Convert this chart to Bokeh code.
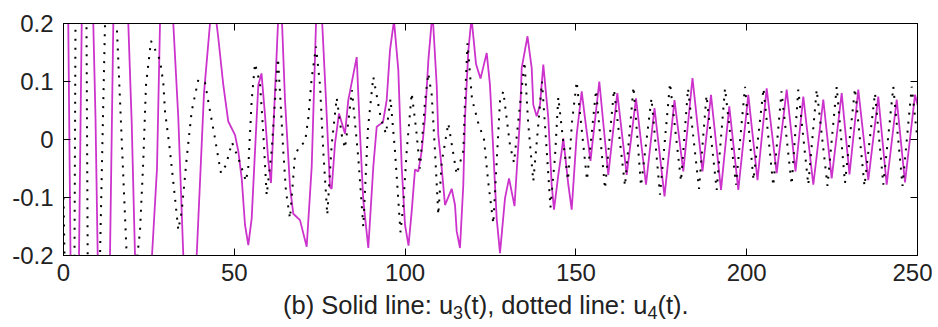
from bokeh.plotting import figure
from bokeh.models import Range1d, LinearAxis, FixedTicker, Div
from bokeh.layouts import column
from bokeh.embed import file_html
from bokeh.resources import INLINE

# ---- data ----
t_u3 = [0.0, 1.4, 2.05, 3.3, 4.54, 5.33, 7.0, 8.72, 9.37, 10.01, 11.8, 13.61, 14.58, 16.8,
        18.97, 19.96, 20.93, 23.4, 25.91, 27.37, 28.25, 30.2, 32.14, 33.61, 35.07, 37.0,
        38.99, 41.13, 42.89, 44.2, 45.32, 46.78, 48.24, 50.2, 51.17, 52.17, 53.13, 54.1,
        55.09, 56.06, 57.03, 57.96, 58.99, 59.95, 60.74, 62.79, 63.82, 64.84, 66.31, 67.27,
        69.23, 71.19, 72.66, 73.92, 75.53, 76.84, 78.02, 78.51, 79.48, 80.65, 82.41, 83.37,
        85.83, 86.8, 87.76, 89.23, 90.69, 91.69, 93.53, 94.61, 95.58, 96.75, 98.01, 99.0,
        99.97, 101.0, 101.93, 102.9, 103.86, 104.86, 105.83, 106.79, 108.02, 109.25, 109.72,
        110.71, 111.68, 113.64, 114.61, 115.1, 116.07, 117.04, 117.54, 118.5, 119.44, 120.76,
        122.07, 123.89, 124.85, 125.82, 126.81, 127.78, 129.25, 130.42, 132.03, 133.64,
        134.13, 135.83, 137.06, 137.53, 138.52, 139.49, 140.46, 141.92, 142.91, 143.59,
        144.85, 145.84, 146.31, 147.78, 148.77, 150.23, 151.7, 152.66, 154.27, 156.85,
        159.48, 162.12, 164.87, 167.6, 170.52, 173.01, 175.94, 178.86, 181.44, 184.13,
        187.06, 189.55, 192.48, 194.9, 197.54, 200.47, 203.16, 205.85, 208.78, 211.71,
        214.29, 216.57, 219.5, 222.42, 224.88, 227.81, 230.09, 232.67, 235.6, 238.52,
        240.98, 243.91, 246.34, 249.27, 250.0]
u3 = [0.5, 0.2, -0.2, -0.45, -0.2, 0.2, 0.45, 0.2, 0.037, -0.2, -0.42, -0.2, 0.2, 0.4,
      0.2, 0.03, -0.2, -0.36, -0.2, -0.05, 0.2, 0.32, 0.2, 0.037, -0.2, -0.3,
      -0.2, 0.08, 0.2, 0.23, 0.175, 0.094, 0.031, 0.008, -0.02, -0.067, -0.147, -0.182,
      -0.136, -0.02, 0.094, 0.114, 0.042, -0.037, -0.075, 0.2, 0.225, 0.068, -0.082, -0.128,
      -0.139, -0.185, -0.047, 0.2, 0.225, 0.068, -0.082, -0.085, -0.007, 0.045, 0.01, 0.068,
      0.142, 0.01, -0.105, -0.187, -0.047, 0.022, 0.03, 0.068, 0.154, 0.205, 0.12, -0.047,
      -0.147, -0.183, -0.124, -0.052, -0.055, -0.02, 0.037, 0.135, 0.22, 0.094, 0.008,
      -0.049, -0.113, -0.085, -0.113, -0.158, -0.187, -0.078, 0.037, 0.152, 0.21, 0.13,
      0.105, 0.149, 0.094, -0.02, -0.136, -0.196, -0.101, -0.067, -0.115, 0.037,
      0.123, 0.178, 0.123, 0.06, 0.04, 0.06, 0.129, 0.037, -0.078, -0.121,
      -0.061, -0.02, 0.002, -0.078, -0.121, 0.008, 0.083, 0.037, -0.037, 0.1,
      -0.061, 0.08, -0.061, 0.071, -0.078, 0.054, -0.098, 0.068, -0.055, 0.106,
      -0.055, 0.077, -0.087, 0.057, -0.087, 0.077, -0.07, 0.088, -0.058, 0.086,
      -0.055, 0.074, -0.078, 0.069, -0.067, 0.08, -0.06, 0.086, -0.07, 0.074,
      -0.078, 0.069, -0.074, 0.077, 0.06]

t_u4 = [0.0, 0.29, 1.9, 3.22, 3.51, 5.1, 6.73, 7.08, 9.0, 10.69, 11.42, 12.15, 13.9, 15.57,
        17.04, 18.5, 20.35, 22.39, 23.36, 24.15, 25.61, 28.25, 29.22, 29.71, 31.18, 32.64,
        33.61, 34.6, 36.07, 37.53, 39.46, 41.42, 42.89, 44.35, 45.32, 46.11, 47.57, 49.33,
        51.67, 53.42, 54.1, 54.6, 55.09, 56.06, 57.52, 58.49, 59.48, 60.95, 61.92, 62.79,
        63.52, 64.34, 65.13, 66.31, 67.77, 69.23, 70.7, 71.66, 72.66, 73.92, 75.09, 76.05,
        77.22, 78.51, 79.98, 81.44, 82.41, 83.37, 84.45, 86.3, 87.76, 89.14, 90.69, 92.94,
        94.41, 95.73, 97.04, 98.65, 99.47, 100.47, 101.93, 103.19, 104.36, 105.83, 106.79,
        107.79, 108.75, 109.72, 110.71, 112.65, 115.1, 117.04, 117.54, 118.27, 119.58,
        121.34, 123.1, 124.27, 125.82, 127.78, 128.75, 130.71, 131.88, 133.64, 134.95,
        136.07, 137.53, 138.61, 140.07, 141.24, 142.56, 143.88, 144.85, 146.22, 147.69,
        148.86, 150.23, 153.25, 155.89, 158.52, 161.15, 164.37, 166.86, 169.06, 172.13,
        174.62, 177.55, 180.77, 182.82, 186.04, 188.23, 191.22, 193.65, 196.87, 199.5,
        201.99, 204.92, 207.78, 210.19, 213.17, 215.1, 218.03, 220.49, 223.65, 226.35,
        228.78, 231.7, 234.48, 237.56, 239.99, 242.92, 245.61, 248.31, 250.0]
u4 = [-0.1, -0.2, -0.5, -0.2, 0.2, 0.5, 0.2, -0.2, -0.45, -0.2, 0.0, 0.2, 0.4, 0.2,
      0.0, -0.2, -0.27, -0.158, -0.037, 0.094, 0.17, 0.137, 0.097, 0.049, -0.02, -0.101,
      -0.156, -0.124, -0.032, 0.049, 0.103, 0.098, 0.049, 0.002, -0.032, -0.058, -0.044, -0.005,
      -0.04, -0.072, -0.047, 0.01, 0.068, 0.131, 0.097, 0.01, -0.096, -0.018, 0.068, 0.14,
      0.066, -0.02, -0.09, -0.136, -0.027, -0.01, -0.005, 0.037, 0.106, 0.16, 0.094, -0.02,
      -0.13, -0.009, 0.072, 0.008, -0.015, 0.03, 0.085, -0.032, -0.15, 0.02, 0.108, 0.035,
      0.01, 0.07, -0.02, -0.16, -0.113, -0.02, 0.08, 0.02, -0.05, 0.066, 0.114,
      0.077, -0.02, -0.13, -0.04, 0.028, -0.06, -0.02, 0.068, 0.166, 0.07,
      0.03, 0.0, -0.07, -0.145, 0.066, 0.083, -0.01, -0.04, 0.06, 0.134,
      0.025, -0.072, 0.0, 0.1, 0.0, -0.117, -0.03, 0.073, 0.0, -0.07,
      0.03, 0.1, -0.07, 0.085, -0.085, 0.086, -0.08, 0.091, -0.08, 0.071,
      -0.095, 0.097, -0.072, 0.088, -0.085, 0.076, -0.087, 0.088, -0.078, 0.091,
      -0.07, 0.088, -0.08, 0.083, -0.078, 0.086, -0.078, 0.086, -0.08, 0.091,
      -0.075, 0.088, -0.08, 0.08, -0.078, 0.091, -0.08, 0.091, 0.0]

x_ticks = [0, 50, 100, 150, 200, 250]
y_ticks = [-0.2, -0.1, 0, 0.1, 0.2]
y_tick_labels = ["-0.2", "-0.1", "0", "0.1", "0.2"]
caption = ("(b) Solid line: u", "3", "(t), dotted line: u", "4", "(t).")

FONT = "Liberation Sans"

p = figure(frame_width=854, frame_height=232,
           x_range=Range1d(0, 250), y_range=Range1d(-0.2, 0.2),
           output_backend="svg", toolbar_location=None,
           min_border_left=63, min_border_right=15, min_border_top=23, min_border_bottom=40,
           background_fill_color="white", border_fill_color="white",
           outline_line_color="black", outline_line_width=1)
p.xgrid.visible = False
p.ygrid.visible = False

p.line(t_u3, u3, line_color="#cc33cc", line_width=1.8)
p.line(t_u4, u4, line_color="black", line_width=2, line_dash="2 7")

def style_axis(ax, ticks, show_labels, standoff):
    ax.ticker = FixedTicker(ticks=ticks)
    ax.major_tick_in = 7
    ax.major_tick_out = 0
    ax.minor_tick_line_color = None
    ax.axis_line_color = "black"
    ax.major_tick_line_color = "black"
    ax.major_label_text_font = FONT
    if show_labels:
        ax.major_label_text_color = "#222222"
        ax.major_label_text_font_size = "24px"
        ax.major_label_standoff = standoff
    else:
        ax.major_label_text_color = None
        ax.major_label_text_font_size = "1px"
        ax.major_label_standoff = 0

style_axis(p.xaxis[0], x_ticks, True, 8)
style_axis(p.yaxis[0], y_ticks, True, 10)
p.yaxis[0].major_label_overrides = dict(zip(y_ticks, y_tick_labels))

top_ax = LinearAxis()
style_axis(top_ax, x_ticks, False, 0)
p.add_layout(top_ax, "above")
right_ax = LinearAxis()
style_axis(right_ax, y_ticks, False, 0)
p.add_layout(right_ax, "right")

sub = '<span style="font-size:18px;position:relative;top:5px">{}</span>'
html = (caption[0] + sub.format(caption[1]) + caption[2] + sub.format(caption[3]) + caption[4])
cap = Div(text=html, width=900, height=30,
          styles={"font-family": FONT, "font-size": "25.5px", "color": "#222222",
                  "padding-left": "278px", "line-height": "10px", "white-space": "nowrap"})

layout = column(p, cap, spacing=0)
open("out.html", "w").write(file_html(layout, INLINE))
